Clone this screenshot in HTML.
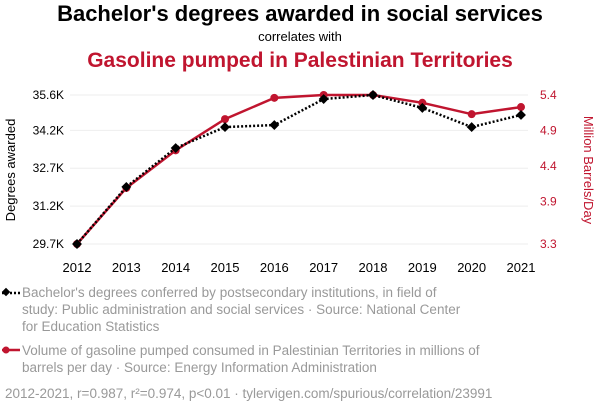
<!DOCTYPE html>
<html><head><meta charset="utf-8">
<style>
body{margin:0;background:#fff;font-family:"Liberation Sans",sans-serif;}
svg text{font-family:"Liberation Sans",sans-serif;}
</style></head>
<body>
<svg width="600" height="408" viewBox="0 0 600 408">
<text x="300" y="21" text-anchor="middle" font-size="22" font-weight="bold" fill="#000">Bachelor's degrees awarded in social services</text>
<text x="300" y="41" text-anchor="middle" font-size="13" fill="#000">correlates with</text>
<text x="300" y="67" text-anchor="middle" font-size="21" font-weight="bold" fill="#c0152f">Gasoline pumped in Palestinian Territories</text>
<g id="grid"></g>
<g id="axes"></g>
<g id="marks"></g>
<text transform="translate(15,170) rotate(-90)" text-anchor="middle" font-size="13" fill="#000">Degrees awarded</text>
<text transform="translate(584,170) rotate(90)" text-anchor="middle" font-size="13" fill="#c0152f">Million Barrels/Day</text>
<g>
<line x1="2" y1="293" x2="20" y2="293" stroke="#000" stroke-width="2.5" stroke-dasharray="2,2"/>
<rect x="3" y="289" width="6" height="6" transform="rotate(45 6 292)" fill="#000"/>
<text font-size="13.5" fill="#999"><tspan x="22" y="297">Bachelor's degrees conferred by postsecondary institutions, in field of</tspan><tspan x="22" y="314">study: Public administration and social services · Source: National Center</tspan><tspan x="22" y="331">for Education Statistics</tspan></text>
</g>
<g>
<line x1="2" y1="350" x2="20" y2="350" stroke="#c0152f" stroke-width="2.5"/>
<circle cx="6" cy="350" r="3.5" fill="#c0152f"/>
<text font-size="13.5" fill="#999"><tspan x="22" y="355">Volume of gasoline pumped consumed in Palestinian Territories in millions of</tspan><tspan x="22" y="372">barrels per day · Source: Energy Information Administration</tspan></text>
</g>
<text x="5" y="398" font-size="13.5" fill="#999">2012-2021, r=0.987, r²=0.974, p&lt;0.01 · tylervigen.com/spurious/correlation/23991</text>
</svg>
<script>
const years=[2012,2013,2014,2015,2016,2017,2018,2019,2020,2021];
const degrees=[29.7,31.96,33.5,34.33,34.41,35.44,35.6,35.09,34.33,34.81];
const gasoline=[3.3,4.09,4.62,5.06,5.36,5.40,5.40,5.29,5.13,5.23];
const leftTicks=[29.7,31.2,32.7,34.2,35.6];
const leftTickLabels=["29.7K","31.2K","32.7K","34.2K","35.6K"];
const rightTicks=[3.3,3.9,4.4,4.9,5.4];
const ns="http://www.w3.org/2000/svg";
const x=y=>77+(y-2012)*(521-77)/9;
const yl=v=>244-(v-29.7)*(149/5.9);
const yr=v=>244-(v-3.3)*(149/2.1);
function mk(t,a,p){const e=document.createElementNS(ns,t);for(const k in a)e.setAttribute(k,a[k]);document.getElementById(p).appendChild(e);return e;}
leftTicks.forEach((v,i)=>{
  const g=mk('line',{x1:70,x2:528,y1:yl(v),y2:yl(v),stroke:'#eee','stroke-width':1},'grid');
  
  
  const t=mk('text',{x:64,y:yl(v)+4,'text-anchor':'end','font-size':12,fill:'#000'},'axes');t.textContent=leftTickLabels[i];
  
  
});
rightTicks.forEach(v=>{
  const t=mk('text',{x:540,y:yr(v)+4,'font-size':12,fill:'#c0152f'},'axes');t.textContent=v.toFixed(1);
  
  
});
years.forEach(y=>{
  const t=mk('text',{x:x(y),y:272,'text-anchor':'middle','font-size':13,fill:'#000'},'axes');t.textContent=y;
  
  
});
const rl=mk('polyline',{points:years.map((y,i)=>x(y)+','+yr(gasoline[i])).join(' '),fill:'none',stroke:'#c0152f','stroke-width':2.5},'marks');


years.forEach((y,i)=>{const c=mk('circle',{cx:x(y),cy:yr(gasoline[i]),r:4,fill:'#c0152f'},'marks');
  
  });
const bl=mk('polyline',{points:years.map((y,i)=>x(y)+','+yl(degrees[i])).join(' '),fill:'none',stroke:'#000','stroke-width':2.5,'stroke-dasharray':'2,2'},'marks');


years.forEach((y,i)=>{const cx=x(y),cy=yl(degrees[i]);
  const d=mk('rect',{x:cx-3.5,y:cy-3.5,width:7,height:7,fill:'#000',transform:`rotate(45 ${cx} ${cy})`},'marks');
  
  });
</script>
</body></html>
